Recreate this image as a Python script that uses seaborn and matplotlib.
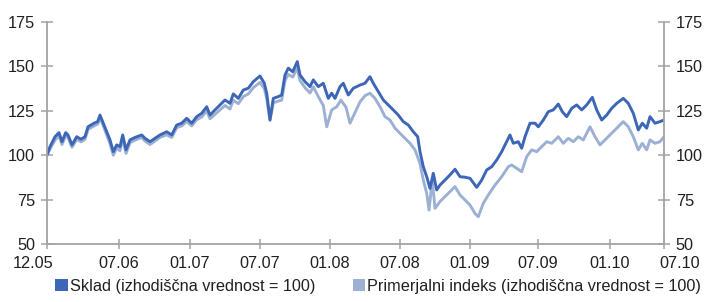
import numpy as np
import pandas as pd
import matplotlib
matplotlib.use("Agg")
import matplotlib.pyplot as plt
from matplotlib.patches import Patch
import matplotlib.transforms as mtransforms
import seaborn as sns

# ---- data (x = trading-day position along the axis) ----
sklad_x = [0, 3, 8, 12, 15, 18.7, 21, 25, 29.7, 34, 38, 41, 47, 50.7, 53, 56.3, 59.7, 63, 66.3,
           69.7, 73, 75.7, 79, 83, 88, 94.7, 98, 103, 108, 113, 119.7, 124.7, 129.7, 134.7,
           139.7, 144.7, 149.7, 154.7, 159.7, 163, 168, 173, 178, 183, 186.3, 191.3, 196.3,
           201.3, 206.3, 213, 217.3, 219.7, 223, 226.3, 231.3, 234.7, 238, 241.3, 245.7,
           250.3, 253, 258, 263, 266.3, 271.3, 276.3, 281.3, 284.7, 288, 293, 296.3, 301.3,
           306.3, 313, 318, 323, 326.3, 331.3, 336.3, 341.3, 346.3, 351.3, 356.3, 361.3,
           366.3, 370.7, 373, 376.3, 379.7, 383, 386.3, 389.7, 393, 398, 403, 408, 413, 418,
           423, 429.7, 434.7, 439.7, 444.7, 449.7, 454.7, 459.7, 463, 466.3, 471.3, 474.7,
           478, 483, 488, 491.3, 496.3, 501.3, 506.3, 511.3, 515.3, 519.7, 524.7, 529.7,
           534.7, 539.7, 545.3, 549.7, 554.7, 559.7, 564.7, 569.7, 576.3, 581.3, 586.3,
           591.3, 595.3, 599.7, 603, 608, 613, 617]
sklad_y = [100, 104.8, 110.4, 112.7, 107.6, 112.7, 111.4, 105.8, 110.4, 109, 110.4, 116, 118,
           118.9, 122.6, 118, 113.2, 108.6, 102, 105.8, 104.8, 111.4, 103, 108.6, 110, 111.4,
           109.5, 107.6, 109.5, 111.4, 113.2, 111.4, 117, 118, 120.8, 118, 121.7, 123.6,
           127.3, 122.6, 125.5, 128.3, 131.1, 129.2, 134.5, 132, 136.7, 137.7, 141.4, 144.6,
           140.5, 134.9, 120, 132, 133, 133.9, 145.2, 149, 147, 152.7, 145.2, 141.4, 138.6,
           142.4, 138.6, 140.5, 132, 134.9, 132, 138.6, 140.5, 133.9, 137.7, 139.5, 140.5,
           144.2, 140.5, 135.8, 131.1, 128.3, 125.5, 122.6, 118.9, 117, 113.2, 110.4, 102,
           93.5, 87.9, 81.3, 89.8, 80.4, 83.2, 86, 88.9, 92.1, 87.9, 87.6, 87, 81.9, 86,
           91.7, 93.5, 97.3, 102, 107.6, 111.4, 106.7, 107.6, 103.9, 110.4, 118, 118, 116,
           119.8, 124.5, 125.5, 128.8, 124.5, 121.7, 126.4, 128.3, 125.5, 128.3, 132.6,
           125.5, 119.8, 122.6, 126.4, 129.2, 132, 129.2, 123.6, 114.2, 118, 115.2, 121.7,
           118, 118.9, 119.8]

index_x = [0, 3, 8, 12, 15, 18.7, 21, 25, 29.7, 34, 38, 41, 47, 50.7, 53, 56.3, 59.7, 63, 66.3,
           69.7, 73, 75.7, 79, 83, 88, 94.7, 98, 103, 108, 113, 119.7, 124.7, 129.7, 134.7,
           139.7, 144.7, 149.7, 154.7, 159.7, 163, 168, 173, 178, 183, 186.3, 191.3, 196.3,
           201.3, 206.3, 213, 217.3, 219.7, 223, 226.3, 231.3, 234.7, 238, 241.3, 245.7,
           250.3, 253, 258, 263, 266.3, 271.3, 276.3, 279.7, 284.7, 289.7, 294, 299, 303,
           308, 313, 318, 323, 328, 333, 338, 343, 348, 353, 358, 363, 368, 373, 376.3,
           379.7, 382, 385.3, 388, 393, 398, 404.7, 408, 413, 418, 423, 428, 431.3, 436.3,
           441.3, 448, 454.7, 461.3, 464.7, 469.7, 474.7, 479.7, 484.7, 489.7, 494.7, 499.7,
           504.7, 511.3, 516.3, 521.3, 526.3, 531.3, 536.3, 543, 548, 553, 558, 563, 568,
           576.3, 581.3, 586.3, 591.3, 595.3, 599.7, 603, 608, 613, 617]
index_y = [100, 103.5, 108.5, 111, 106, 111, 110, 104.5, 109, 107.5, 109, 114.5, 116.5, 117.5,
           121, 116.5, 111.5, 106.5, 100, 104, 102.5, 109.5, 101, 107, 108.5, 110, 108, 106,
           108, 110, 111.5, 110, 115.5, 116.5, 119, 116.5, 120, 121.5, 125, 120.5, 123,
           125.5, 128, 126, 131, 129, 133, 134.5, 138, 141, 137.5, 132, 119.5, 129.5, 130.5,
           131, 142, 145.5, 144, 149, 142, 138, 135, 138.5, 133, 128, 116, 125.5, 127.3, 131,
           127, 118, 124, 130, 133.5, 134.9, 132, 127.3, 121.7, 119.8, 115.2, 112.3, 109.5,
           106.7, 103, 95.4, 86, 78.6, 69.1, 86, 70.1, 73.9, 76.7, 80.4, 82.3, 77.6, 74.8,
           71.9, 67.2, 65.4, 72.9, 77.6, 83.2, 87.9, 93.5, 94.5, 92.6, 90.7, 99.2, 103, 102,
           104.8, 107.6, 106.7, 110.4, 106.7, 109.5, 107.6, 110.4, 108.6, 116, 110.4, 105.8,
           108.6, 111.4, 114.2, 118.9, 116, 110.4, 103, 106.7, 103, 108.6, 106.7, 107.6, 110.4]

tick_pos = [0, 72, 143, 213, 283, 353, 423, 491, 563, 617]
tick_labels = ["12.05", "07.06", "01.07", "07.07", "01.08", "07.08", "01.09", "07.09", "01.10", "07.10"]
y_ticks = [50, 75, 100, 125, 150, 175]

series_names = ["Sklad (izhodiščna vrednost = 100)", "Primerjalni indeks (izhodiščna vrednost = 100)"]
dark_col = "#3d67b6"
light_col = "#9cb0d4"
axis_col = "#a3a3a3"
text_col = "#231f20"

# ---- style ----
sns.set_style("white")
plt.rcParams["font.family"] = ["Liberation Sans", "DejaVu Sans"]

fig = plt.figure(figsize=(7.07, 3.02), dpi=100)
ax = fig.add_axes([47 / 707, 1 - 244 / 302, (664 - 47) / 707, (244 - 22) / 302])

sns.lineplot(x=index_x, y=index_y, ax=ax, color=light_col, lw=2.1, sort=False,
             solid_joinstyle="round")
sns.lineplot(x=sklad_x, y=sklad_y, ax=ax, color=dark_col, lw=2.1, sort=False,
             solid_joinstyle="round")

ax.set_xlim(0, 617)
ax.set_ylim(50, 175)
ax.set_yticks(y_ticks)
ax.set_xticks(tick_pos)
ax.set_xticklabels(tick_labels)

ax.spines["top"].set_visible(False)
for s in ["left", "right", "bottom"]:
    ax.spines[s].set_color(axis_col)
    ax.spines[s].set_linewidth(1.3)

fs = 11.7
ax.tick_params(axis="y", direction="inout", length=8, width=1.1, color=axis_col,
               labelsize=fs, labelcolor=text_col, pad=4.5, left=True, right=True,
               labelleft=True, labelright=True)
ax.tick_params(axis="x", direction="inout", length=7, width=1.1, color=axis_col,
               labelsize=fs, labelcolor=text_col, pad=5, bottom=True)

labels = ax.get_xticklabels()
labels[0].set_transform(labels[0].get_transform() +
                        mtransforms.ScaledTranslation(-14 / 100, 0, fig.dpi_scale_trans))
labels[-1].set_transform(labels[-1].get_transform() +
                         mtransforms.ScaledTranslation(16 / 100, 0, fig.dpi_scale_trans))

ax.set_xlabel("")
ax.set_ylabel("")
ax.grid(False)

handles = [Patch(facecolor=dark_col, edgecolor="none"), Patch(facecolor=light_col, edgecolor="none")]
leg = fig.legend(handles, series_names, loc="lower left", bbox_to_anchor=(44 / 707, -0.01),
                 ncol=2, frameon=False, fontsize=fs, handlelength=0.75, handleheight=0.75,
                 handletextpad=0.15, columnspacing=2.3, borderpad=0.2, labelcolor=text_col)

fig.savefig("out.png", dpi=100)
